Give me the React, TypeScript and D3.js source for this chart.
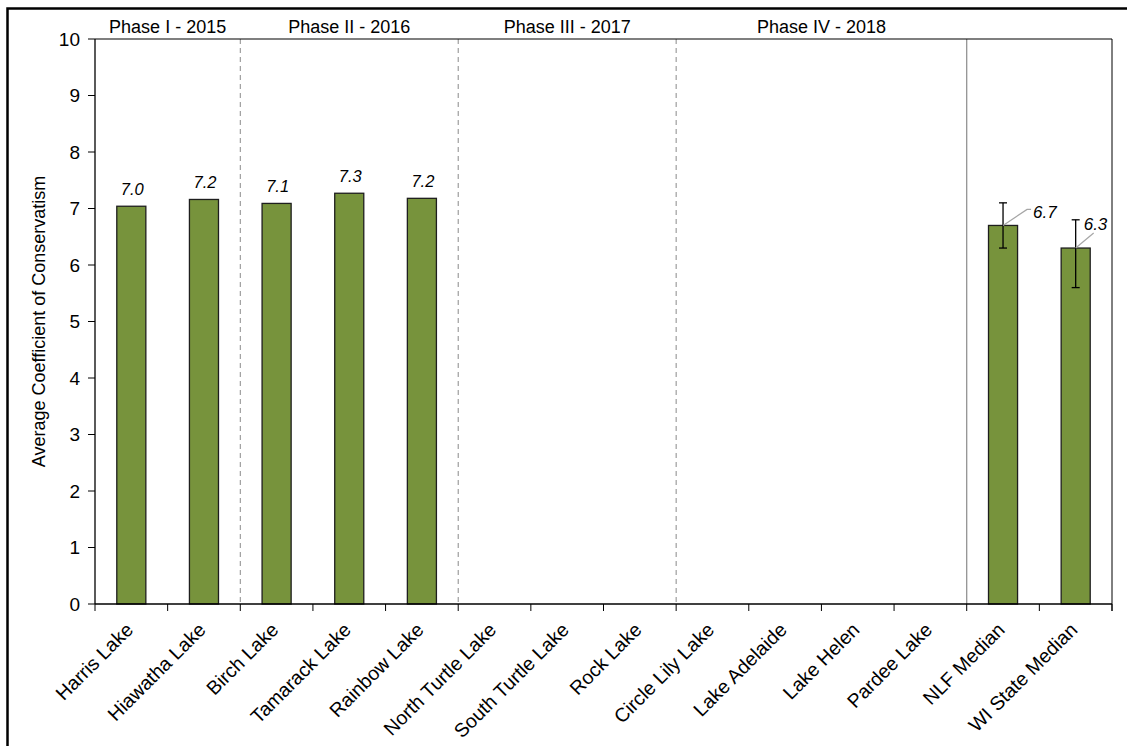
import React from "react";
import * as d3 from "d3";

const categories = [
  "Harris Lake", "Hiawatha Lake", "Birch Lake", "Tamarack Lake", "Rainbow Lake",
  "North Turtle Lake", "South Turtle Lake", "Rock Lake", "Circle Lily Lake",
  "Lake Adelaide", "Lake Helen", "Pardee Lake", "NLF Median", "WI State Median",
];
const values: (number | null)[] = [7.04, 7.16, 7.09, 7.27, 7.18, null, null, null, null, null, null, null, 6.7, 6.3];
const valueLabels: (string | null)[] = ["7.0", "7.2", "7.1", "7.3", "7.2", null, null, null, null, null, null, null, "6.7", "6.3"];
const errLow: (number | null)[] = [null, null, null, null, null, null, null, null, null, null, null, null, 6.3, 5.6];
const errHigh: (number | null)[] = [null, null, null, null, null, null, null, null, null, null, null, null, 7.1, 6.8];
const phases = [
  { label: "Phase I - 2015", start: 0, end: 2 },
  { label: "Phase II - 2016", start: 2, end: 5 },
  { label: "Phase III - 2017", start: 5, end: 8 },
  { label: "Phase IV - 2018", start: 8, end: 12 },
];
const dashedBoundaries = [2, 5, 8];
const solidBoundaries = [12];
const yTicks = [0, 1, 2, 3, 4, 5, 6, 7, 8, 9, 10];

const W = 1127, H = 746;
const left = 95, right = 1112, top = 39, bottom = 604;
const FONT = "'Liberation Sans', Arial, sans-serif";
const BAR = "#77933C";

export default function App() {
  const y = d3.scaleLinear().domain([0, 10]).range([bottom, top]);
  const xb = d3.scaleLinear().domain([0, categories.length]).range([left, right]);
  const x = d3.scaleBand().domain(categories).range([left, right]).paddingInner(0.6).paddingOuter(0.3);
  const bw = x.bandwidth();

  return (
    <svg width={W} height={H} style={{ position: "absolute", left: 0, top: 0, background: "#fff" }} fontFamily={FONT}>
      <rect x={0} y={0} width={W} height={H} fill="#fff" />
      <rect x={7.5} y={8.5} width={W + 20} height={H + 20} fill="none" stroke="#000" strokeWidth={2.5} />

      {/* phase separators */}
      {dashedBoundaries.map((b) => (
        <line key={"d" + b} x1={xb(b)} x2={xb(b)} y1={top} y2={bottom} stroke="#8a8a8a" strokeWidth={1} strokeDasharray="5,4" />
      ))}
      {solidBoundaries.map((b) => (
        <line key={"s" + b} x1={xb(b)} x2={xb(b)} y1={top} y2={bottom} stroke="#8a8a8a" strokeWidth={1.2} />
      ))}

      {/* frame top & right */}
      <line x1={left} x2={right} y1={top} y2={top} stroke="#000" strokeWidth={1.2} />
      <line x1={right} x2={right} y1={top} y2={bottom + 7} stroke="#000" strokeWidth={1} />

      {/* phase labels */}
      {phases.map((p) => (
        <text key={p.label} x={(xb(p.start) + xb(p.end)) / 2} y={33} textAnchor="middle" fontSize={18} fill="#000">
          {p.label}
        </text>
      ))}

      {/* bars */}
      {categories.map((c, i) => {
        const v = values[i];
        if (v == null) return null;
        return (
          <rect key={c} x={x(c)!} y={y(v)} width={bw} height={y(0) - y(v)} fill={BAR} stroke="#1e1e1e" strokeWidth={1.3} />
        );
      })}

      {/* error bars */}
      {categories.map((c, i) => {
        const lo = errLow[i], hi = errHigh[i];
        if (lo == null || hi == null) return null;
        const cx = x(c)! + bw / 2;
        return (
          <g key={"e" + c} stroke="#000" strokeWidth={1.3}>
            <line x1={cx} x2={cx} y1={y(hi)} y2={y(lo)} />
            <line x1={cx - 4} x2={cx + 4} y1={y(hi)} y2={y(hi)} />
            <line x1={cx - 4} x2={cx + 4} y1={y(lo)} y2={y(lo)} />
          </g>
        );
      })}

      {/* value labels */}
      {categories.map((c, i) => {
        const v = values[i];
        const lab = valueLabels[i];
        if (v == null || lab == null) return null;
        const cx = x(c)! + bw / 2;
        if (errLow[i] == null) {
          return (
            <text key={"l" + c} x={cx + 1} y={y(v) - 11} textAnchor="middle" fontSize={16.5} fontStyle="italic" fill="#000">
              {lab}
            </text>
          );
        }
        const isNLF = i === 12;
        const lx2 = isNLF ? cx + 24 : cx + 18;
        const ly2 = isNLF ? y(v) - 16 : y(v) - 15;
        const tx = isNLF ? cx + 30 : cx + 8;
        const ty = isNLF ? y(v) - 7 : y(v) - 18;
        return (
          <g key={"l" + c}>
            <polyline points={`${cx},${y(v)} ${lx2},${ly2} ${isNLF ? lx2 + 4 : lx2},${ly2}`} fill="none" stroke="#a6a6a6" strokeWidth={1.2} />
            <text x={tx} y={ty} fontSize={17} fontStyle="italic" fill="#000">{lab}</text>
          </g>
        );
      })}

      {/* x axis */}
      <line x1={left} x2={right} y1={bottom} y2={bottom} stroke="#000" strokeWidth={1.3} />
      {d3.range(categories.length + 1).map((k) => (
        <line key={"xt" + k} x1={xb(k)} x2={xb(k)} y1={bottom} y2={bottom + 7} stroke="#000" strokeWidth={1} />
      ))}
      {categories.map((c) => {
        const cx = x(c)! + bw / 2;
        return (
          <text key={"xl" + c} transform={`translate(${cx + 3},${bottom + 27}) rotate(-45)`} textAnchor="end" fontSize={19.5} fill="#000">
            {c}
          </text>
        );
      })}

      {/* y axis */}
      <line x1={left} x2={left} y1={top} y2={bottom} stroke="#000" strokeWidth={1.3} />
      {yTicks.map((t) => (
        <g key={"yt" + t}>
          <line x1={left - 7} x2={left} y1={y(t)} y2={y(t)} stroke="#000" strokeWidth={1} />
          <text x={80} y={y(t) + 6.5} textAnchor="end" fontSize={19} fill="#000">{t}</text>
        </g>
      ))}
      <text transform={`translate(45,${(top + bottom) / 2}) rotate(-90)`} textAnchor="middle" fontSize={18} fill="#000">
        Average Coefficient of Conservatism
      </text>
    </svg>
  );
}
